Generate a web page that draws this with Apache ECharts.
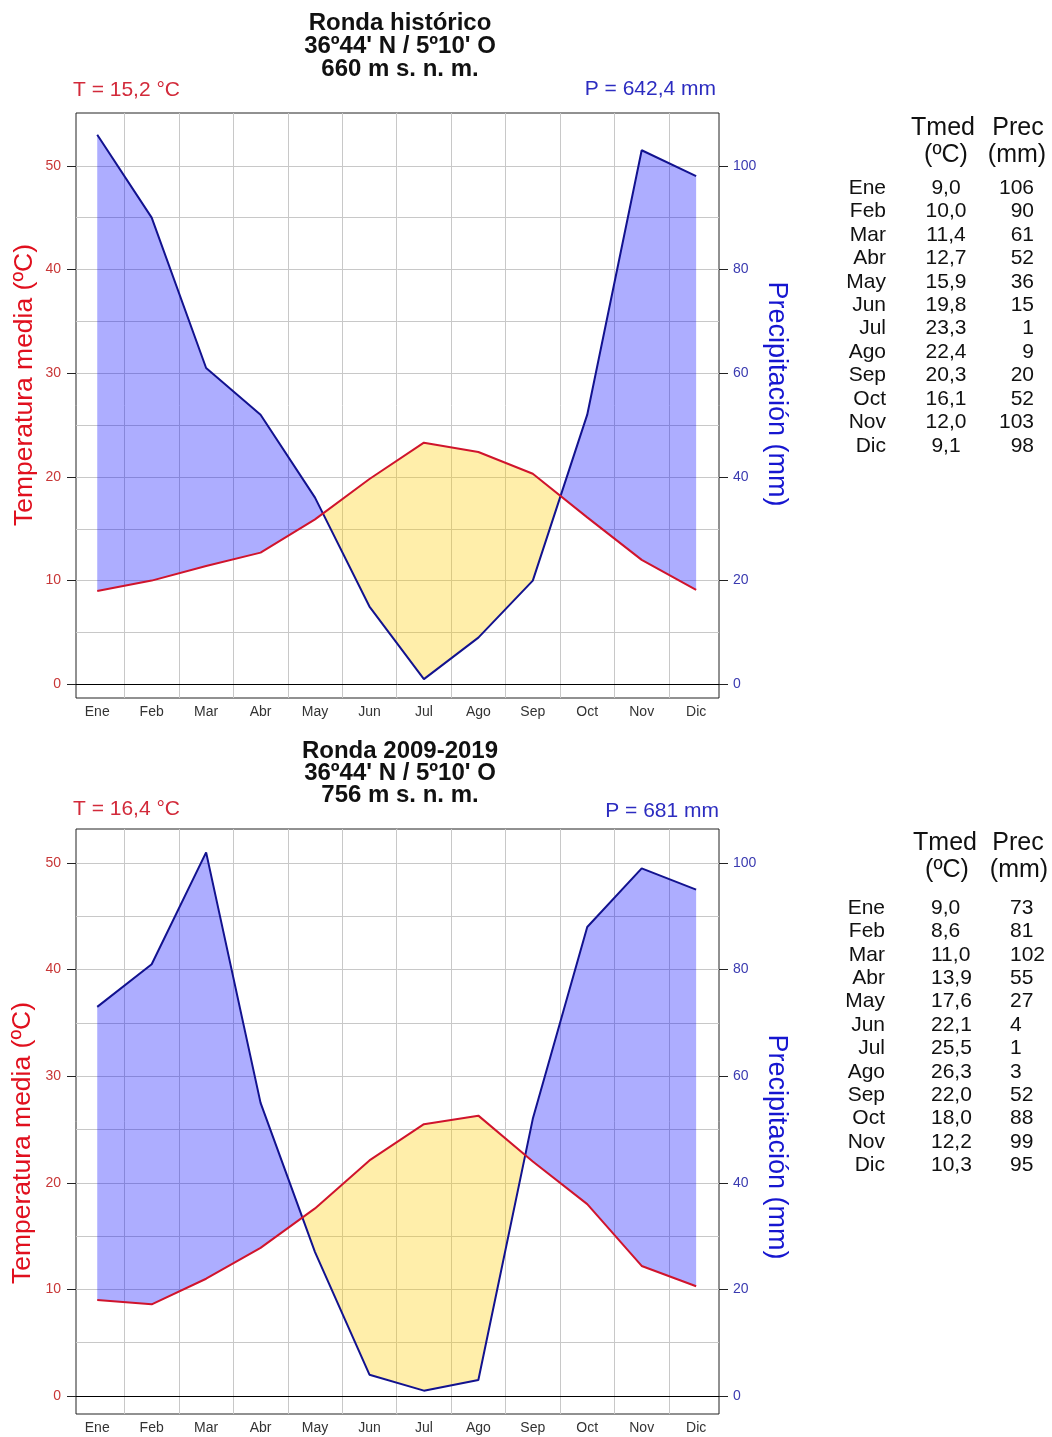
<!DOCTYPE html>
<html>
<head>
<meta charset="utf-8">
<title>Climogramas de Ronda</title>
<script src="https://cdn.jsdelivr.net/npm/echarts@6/dist/echarts.min.js"></script>
<style>
  html, body { margin: 0; padding: 0; background: #fff; }
  #chart { width: 1052px; height: 1437px; }
</style>
</head>
<body>
<div id="chart"></div>
<script>
// ---- data ----
const MONTHS = ['Ene', 'Feb', 'Mar', 'Abr', 'May', 'Jun', 'Jul', 'Ago', 'Sep', 'Oct', 'Nov', 'Dic'];

const TITLE_HIST = ['Ronda histórico', "36º44' N / 5º10' O", '660 m s. n. m.'];
const TEMP_HIST = [9.0, 10.0, 11.4, 12.7, 15.9, 19.8, 23.3, 22.4, 20.3, 16.1, 12.0, 9.1];
const PREC_HIST = [106, 90, 61, 52, 36, 15, 1, 9, 20, 52, 103, 98];

const TITLE_RECENT = ['Ronda 2009-2019', "36º44' N / 5º10' O", '756 m s. n. m.'];
const TEMP_RECENT = [9.0, 8.6, 11.0, 13.9, 17.6, 22.1, 25.5, 26.3, 22.0, 18.0, 12.2, 10.3];
const PREC_RECENT = [73, 81, 102, 55, 27, 4, 1, 3, 52, 88, 99, 95];

const ANNUAL_T = ['15,2', '16,4'];
const ANNUAL_P = ['642,4', '681'];

const TEMP_TICKS = [0, 10, 20, 30, 40, 50];
const PREC_TICKS = [0, 20, 40, 60, 80, 100];
const TEMP_GRID = [5, 10, 15, 20, 25, 30, 35, 40, 45, 50];
const MONTH_GRID = [0.5, 1.5, 2.5, 3.5, 4.5, 5.5, 6.5, 7.5, 8.5, 9.5, 10.5];

// ---- style ----
const FONT = '"Liberation Sans", Arial, Helvetica, sans-serif';
const RED_LINE = '#d0142c';
const BLUE_LINE = '#12128f';
const WET_FILL = 'rgba(0,0,255,0.32)';
const DRY_FILL = 'rgba(255,205,0,0.333)';
const GRID_COLOR = '#c8c8c8';
const X_MIN = -0.39, X_MAX = 11.42;
const GRID_LEFT = 76, GRID_WIDTH = 643, GRID_HEIGHT = 585;

// Walter–Lieth scale: 10 ºC on the left axis = 20 mm on the right axis.
const PANELS = [
  {
    title: TITLE_HIST, temp: TEMP_HIST, prec: PREC_HIST, tAnnual: ANNUAL_T[0], pAnnual: ANNUAL_P[0],
    top: 113, tMin: -1.32, tMax: 55.09,
    titleY: [23, 46, 69], tLabelY: 90.5, pLabelY: 89.5, pLabelX: 716,
    leftName: [25, 385], rightName: [776, 394],
    table: { headY: [128, 155], headX: [943, 1018, 946, 1017], rowY: 188, step: 23.45,
             monthX: 886, tX: 946, tAlign: 'center', pX: 1034, pAlign: 'right' }
  },
  {
    title: TITLE_RECENT, temp: TEMP_RECENT, prec: PREC_RECENT, tAnnual: ANNUAL_T[1], pAnnual: ANNUAL_P[1],
    top: 829, tMin: -1.69, tMax: 53.19,
    titleY: [751, 773, 795], tLabelY: 809, pLabelY: 811.5, pLabelX: 719,
    leftName: [23, 1143], rightName: [776, 1147],
    table: { headY: [843, 870], headX: [945, 1018, 947, 1019], rowY: 908, step: 23.4,
             monthX: 885, tX: 931, tAlign: 'left', pX: 1010, pAlign: 'left' }
  }
];

// Split the band between the temperature curve and the (halved) precipitation
// curve into humid (P/2 > T) and dry (P/2 < T) polygons, cut at the crossings.
function wetDryRegions(temp, prec) {
  const regions = [];
  let wet = prec[0] / 2 >= temp[0];
  let upper = [[0, prec[0] / 2]];
  let lower = [[0, temp[0]]];
  for (let i = 0; i < temp.length - 1; i++) {
    const d0 = prec[i] / 2 - temp[i];
    const d1 = prec[i + 1] / 2 - temp[i + 1];
    if ((d0 > 0 && d1 < 0) || (d0 < 0 && d1 > 0)) {
      const f = d0 / (d0 - d1);
      const cross = [i + f, temp[i] + f * (temp[i + 1] - temp[i])];
      upper.push(cross);
      lower.push(cross);
      regions.push({ wet, pts: upper.concat(lower.slice().reverse()) });
      wet = !wet;
      upper = [cross];
      lower = [cross];
    }
    upper.push([i + 1, prec[i + 1] / 2]);
    lower.push([i + 1, temp[i + 1]]);
  }
  regions.push({ wet, pts: upper.concat(lower.slice().reverse()) });
  return regions;
}

function fmt1(v) { return v.toFixed(1).replace('.', ','); }

function text(str, x, y, o) {
  const align = o.align || 'center';
  return {
    type: 'text', x, y, rotation: o.rotation || 0, silent: true, z: 10,
    style: {
      text: str, fill: o.color || '#111',
      font: (o.bold ? 'bold ' : '') + o.size + 'px ' + FONT,
      align, verticalAlign: 'middle', textAlign: align, textVerticalAlign: 'middle'
    }
  };
}

const grids = [], xAxes = [], yAxes = [], series = [], graphics = [];

PANELS.forEach((p, g) => {
  grids.push({
    left: GRID_LEFT, top: p.top, width: GRID_WIDTH, height: GRID_HEIGHT,
    show: true, backgroundColor: '#fff', borderColor: '#222', borderWidth: 1, containLabel: false
  });

  // month labels
  xAxes.push({
    type: 'value', gridIndex: g, min: X_MIN, max: X_MAX, position: 'bottom',
    axisLine: { show: false, onZero: false }, axisTick: { show: false }, splitLine: { show: false },
    axisLabel: {
      customValues: MONTHS.map((m, i) => i), formatter: v => MONTHS[v],
      color: '#333', fontSize: 14, fontFamily: FONT, margin: 7
    }
  });
  // vertical grid lines between months
  xAxes.push({
    type: 'value', gridIndex: g, min: X_MIN, max: X_MAX, position: 'top',
    axisLine: { show: false, onZero: false }, axisLabel: { show: false },
    axisTick: { show: false, customValues: MONTH_GRID },
    splitLine: { show: true, lineStyle: { color: GRID_COLOR, width: 1 } }
  });

  // temperature axis
  yAxes.push({
    type: 'value', gridIndex: g, position: 'left', min: p.tMin, max: p.tMax,
    axisLine: { show: false, onZero: false }, splitLine: { show: false },
    axisTick: { show: true, inside: false, length: 9, customValues: TEMP_TICKS, lineStyle: { color: '#222', width: 1 } },
    axisLabel: { customValues: TEMP_TICKS, color: '#c83737', fontSize: 14, fontFamily: FONT, margin: 15 }
  });
  // precipitation axis (twice the temperature scale)
  yAxes.push({
    type: 'value', gridIndex: g, position: 'right', min: 2 * p.tMin, max: 2 * p.tMax,
    axisLine: { show: false, onZero: false }, splitLine: { show: false },
    axisTick: { show: true, inside: false, length: 9, customValues: PREC_TICKS, lineStyle: { color: '#222', width: 1 } },
    axisLabel: { customValues: PREC_TICKS, color: '#3a3ab0', fontSize: 14, fontFamily: FONT, margin: 14 }
  });
  // horizontal grid lines every 5 ºC
  yAxes.push({
    type: 'value', gridIndex: g, position: 'left', min: p.tMin, max: p.tMax,
    axisLine: { show: false, onZero: false }, axisLabel: { show: false },
    axisTick: { show: false, customValues: TEMP_GRID },
    splitLine: { show: true, lineStyle: { color: GRID_COLOR, width: 1 } }
  });

  const xi = 2 * g, yT = 3 * g, yP = 3 * g + 1;
  const regions = wetDryRegions(p.temp, p.prec);

  series.push({
    type: 'custom', xAxisIndex: xi, yAxisIndex: yT, silent: true, z: 1,
    data: [[0, 0]],
    renderItem: (params, api) => ({
      type: 'group',
      children: regions.map(r => ({
        type: 'polygon',
        shape: { points: r.pts.map(pt => api.coord(pt)) },
        style: { fill: r.wet ? WET_FILL : DRY_FILL, stroke: null, lineWidth: 0 }
      }))
    })
  });
  series.push({
    type: 'line', xAxisIndex: xi, yAxisIndex: yP, z: 3, silent: true,
    symbol: 'none', data: p.prec.map((v, i) => [i, v]),
    lineStyle: { color: BLUE_LINE, width: 2 }
  });
  series.push({
    type: 'line', xAxisIndex: xi, yAxisIndex: yT, z: 4, silent: true,
    symbol: 'none', data: p.temp.map((v, i) => [i, v]),
    lineStyle: { color: RED_LINE, width: 2 },
    markLine: {
      silent: true, symbol: 'none', label: { show: false },
      lineStyle: { color: '#000', width: 1, type: 'solid' },
      emphasis: { disabled: true },
      data: [{ yAxis: 0 }]
    }
  });

  // titles and annual values
  p.title.forEach((line, k) => graphics.push(text(line, 400, p.titleY[k], { size: 24, bold: true, color: '#111' })));
  graphics.push(text('T = ' + p.tAnnual + ' °C', 73, p.tLabelY, { size: 21, align: 'left', color: '#d22a3a' }));
  graphics.push(text('P = ' + p.pAnnual + ' mm', p.pLabelX, p.pLabelY, { size: 21, align: 'right', color: '#2c2cc0' }));

  // axis names
  graphics.push(text('Temperatura media (ºC)', p.leftName[0], p.leftName[1], { size: 26.5, color: '#e0101e', rotation: Math.PI / 2 }));
  graphics.push(text('Precipitación (mm)', p.rightName[0], p.rightName[1], { size: 27, color: '#1616d0', rotation: -Math.PI / 2 }));

  // monthly table
  const t = p.table;
  graphics.push(text('Tmed', t.headX[0], t.headY[0], { size: 25 }));
  graphics.push(text('Prec', t.headX[1], t.headY[0], { size: 25 }));
  graphics.push(text('(ºC)', t.headX[2], t.headY[1], { size: 25 }));
  graphics.push(text('(mm)', t.headX[3], t.headY[1], { size: 25 }));
  MONTHS.forEach((m, i) => {
    const y = t.rowY + i * t.step;
    graphics.push(text(m, t.monthX, y, { size: 21, align: 'right' }));
    graphics.push(text(fmt1(p.temp[i]), t.tX, y, { size: 21, align: t.tAlign }));
    graphics.push(text(String(p.prec[i]), t.pX, y, { size: 21, align: t.pAlign }));
  });
});

const chart = echarts.init(document.getElementById('chart'), null, { renderer: 'canvas' });
chart.setOption({
  animation: false,
  backgroundColor: '#fff',
  grid: grids,
  xAxis: xAxes,
  yAxis: yAxes,
  series: series,
  graphic: graphics
});
</script>
</body>
</html>
